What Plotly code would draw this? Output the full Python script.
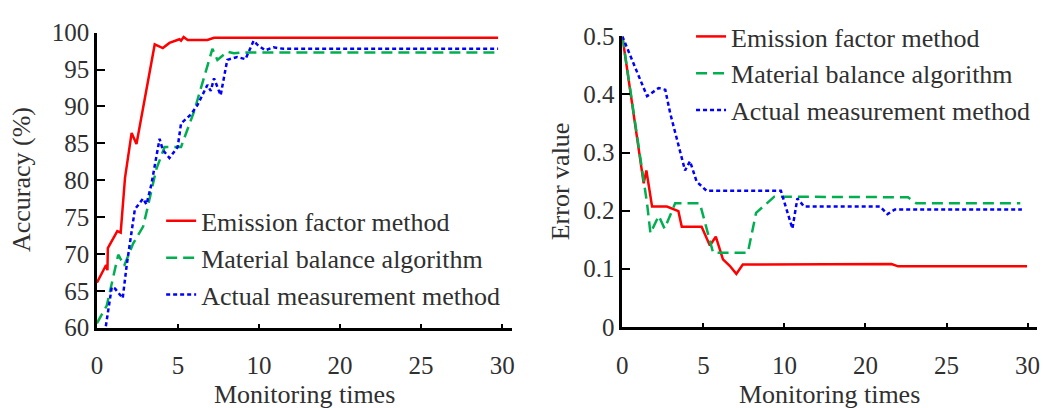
import plotly.graph_objects as go

W, H = 1043, 408

# Tick layout: positions along the axis and their printed labels
x_tick_pos = [0, 6, 12, 18, 24, 30]
x_tick_labels = ["0", "5", "10", "20", "25", "30"]
acc_ticks = [60, 65, 70, 75, 80, 85, 90, 95, 100]
err_ticks = [0, 0.1, 0.2, 0.3, 0.4, 0.5]
err_tick_labels = ["0", "0.1", "0.2", "0.3", "0.4", "0.5"]

series_names = ["Emission factor method", "Material balance algorithm", "Actual measurement method"]

# Left: accuracy (%)
acc_red_x = [0, 0.68, 0.78, 0.81, 1.51, 1.76, 2.08, 2.57, 2.93, 4.28, 4.88, 5.37, 6.11, 6.23, 6.42, 6.72, 8.18, 8.67, 29.7]
acc_red_y = [66.1, 68.5, 67.8, 70.8, 73.1, 72.9, 80.3, 86.4, 84.9, 98.4, 97.9, 98.6, 99.1, 98.9, 99.4, 99.0, 99.0, 99.3, 99.3]
acc_green_x = [0, 0.73, 1.58, 2.02, 2.68, 3.42, 3.78, 4.40, 5.01, 6.23, 7.21, 8.55, 8.92, 9.65, 10.14, 10.87, 29.7]
acc_green_y = [60.6, 63.0, 69.9, 68.4, 71.4, 73.7, 76.5, 81.5, 84.5, 84.5, 89.4, 97.8, 96.3, 97.4, 97.2, 97.3, 97.3]
acc_blue_x = [0.66, 1.10, 1.34, 1.91, 2.20, 2.81, 3.42, 3.67, 4.03, 4.64, 4.88, 5.37, 5.98, 6.23, 6.96, 7.45, 8.18, 8.43, 8.67, 9.16, 9.65, 10.38, 11.0, 11.6, 11.85, 12.46, 13.07, 13.8, 29.7]
acc_blue_y = [60.2, 65.5, 65.3, 64.0, 68.4, 76.05, 77.5, 76.7, 79.4, 85.6, 84.1, 83.0, 84.5, 87.7, 88.9, 90.2, 92.9, 92.1, 93.8, 91.5, 96.3, 96.7, 96.4, 98.9, 98.4, 97.6, 98.0, 97.8, 97.8]

# Right: error value
err_red_x = [0, 1.58, 1.78, 2.20, 3.30, 4.15, 4.40, 5.87, 6.48, 6.92, 7.45, 7.95, 8.44, 8.92, 19.93, 20.42, 29.96]
err_red_y = [0.5, 0.247, 0.269, 0.207, 0.207, 0.199, 0.172, 0.172, 0.14, 0.155, 0.116, 0.105, 0.091, 0.107, 0.108, 0.104, 0.104]
err_green_x = [0, 1.83, 2.08, 2.69, 3.13, 3.91, 5.74, 6.72, 9.29, 9.9, 11.25, 21.15, 21.76, 29.46]
err_green_y = [0.5, 0.2125, 0.161, 0.191, 0.169, 0.2125, 0.2125, 0.1274, 0.1274, 0.196, 0.224, 0.223, 0.2125, 0.2125]
err_blue_x = [0, 1.83, 2.69, 3.18, 3.54, 4.64, 5.01, 5.50, 6.24, 11.74, 12.59, 12.96, 13.45, 19.08, 19.63, 20.18, 29.58]
err_blue_y = [0.5, 0.397, 0.411, 0.408, 0.368, 0.269, 0.285, 0.25, 0.234, 0.234, 0.169, 0.221, 0.207, 0.207, 0.194, 0.202, 0.202]

colors = ["#FF0000", "#00B050", "#0000FF"]
dashes = ["solid", "11px,6px", "4px,3px"]
FONT = "Liberation Serif"
TXT = "#303030"
TICK_SIZE = 25
TEXT_SIZE = 26

fig = go.Figure()
left = [(acc_red_x, acc_red_y), (acc_green_x, acc_green_y), (acc_blue_x, acc_blue_y)]
right = [(err_red_x, err_red_y), (err_green_x, err_green_y), (err_blue_x, err_blue_y)]
for i, (xs, ys) in enumerate(left):
    fig.add_trace(go.Scatter(x=xs, y=ys, mode="lines", name=series_names[i],
                             line=dict(color=colors[i], width=2.5, dash=dashes[i]),
                             xaxis="x", yaxis="y", legend="legend"))
for i, (xs, ys) in enumerate(right):
    fig.add_trace(go.Scatter(x=xs, y=ys, mode="lines", name=series_names[i],
                             line=dict(color=colors[i], width=2.5, dash=dashes[i]),
                             xaxis="x2", yaxis="y2", legend="legend2"))

def px_x(p):
    return p / W

def px_y(p):
    return (H - p) / H

axis_common = dict(showline=True, linecolor="black", linewidth=2.5, showgrid=False,
                   zeroline=False, ticks="inside", tickcolor="black", tickwidth=2,
                   tickfont=dict(family=FONT, size=TICK_SIZE, color=TXT))

fig.update_layout(
    width=W, height=H, margin=dict(l=0, r=0, t=0, b=0),
    paper_bgcolor="white", plot_bgcolor="white",
    font=dict(family=FONT, size=TEXT_SIZE, color=TXT),
    xaxis=dict(domain=[px_x(91.7), px_x(510)], range=[0, 30.7], tickvals=x_tick_pos,
               ticktext=x_tick_labels, anchor="y", ticklen=4, ticklabelstandoff=14, **axis_common),
    yaxis=dict(domain=[px_y(337), px_y(21)], range=[60, 100], tickvals=acc_ticks,
               anchor="x", ticklen=8, **axis_common),
    xaxis2=dict(domain=[px_x(621.7), px_x(1040)], range=[0, 30.7], tickvals=x_tick_pos,
                ticktext=x_tick_labels, anchor="y2", ticklen=4, ticklabelstandoff=14, **axis_common),
    yaxis2=dict(domain=[px_y(336), px_y(25)], range=[0, 0.5], tickvals=err_ticks,
                ticktext=err_tick_labels, anchor="x2", ticklen=8, **axis_common),
    legend=dict(x=px_x(156.5), y=px_y(197.5), xanchor="left", yanchor="top",
                bgcolor="rgba(0,0,0,0)", font=dict(family=FONT, size=TEXT_SIZE, color=TXT)),
    legend2=dict(x=px_x(691), y=px_y(0), xanchor="left", yanchor="top",
                 bgcolor="rgba(0,0,0,0)", font=dict(family=FONT, size=TEXT_SIZE, color=TXT)),
    annotations=[
        dict(text="Accuracy (%)", x=px_x(15), y=px_y(178), xref="paper", yref="paper",
             xanchor="center", yanchor="middle",
             textangle=-90, showarrow=False, font=dict(family=FONT, size=TEXT_SIZE, color=TXT)),
        dict(text="Error value", x=px_x(559), y=px_y(180), xref="paper", yref="paper",
             xanchor="center", yanchor="middle",
             textangle=-90, showarrow=False, font=dict(family=FONT, size=TEXT_SIZE, color=TXT)),
        dict(text="Monitoring times", x=px_x(300.8), y=px_y(409), xref="paper", yref="paper",
             xanchor="center", yanchor="middle",
             showarrow=False, font=dict(family=FONT, size=TEXT_SIZE, color=TXT)),
        dict(text="Monitoring times", x=px_x(831), y=px_y(409), xref="paper", yref="paper",
             xanchor="center", yanchor="middle",
             showarrow=False, font=dict(family=FONT, size=TEXT_SIZE, color=TXT)),
    ],
)

fig.write_html("out.html")
